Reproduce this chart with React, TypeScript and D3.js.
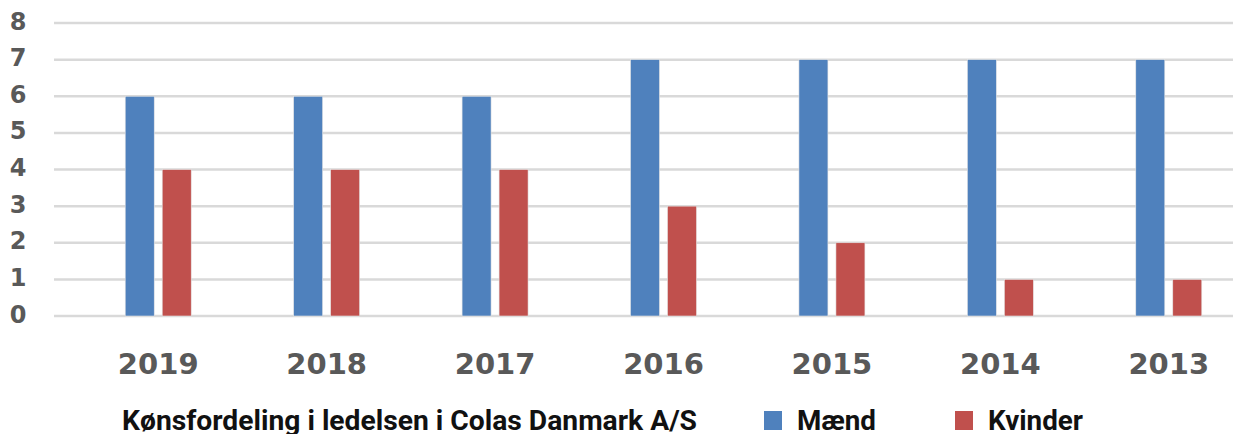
import React from 'react';
import * as d3 from 'd3';

const years = ['2019', '2018', '2017', '2016', '2015', '2014', '2013'];
const maend = [6, 6, 6, 7, 7, 7, 7];
const kvinder = [4, 4, 4, 3, 2, 1, 1];
const yTicks = [0, 1, 2, 3, 4, 5, 6, 7, 8];
const seriesNames = ['Mænd', 'Kvinder'];
const title = 'Kønsfordeling i ledelsen i Colas Danmark A/S';

const W = 1233;
const H = 434;
const colors = ['#4F81BD', '#C0504D'];
const numFont = '"DejaVu Sans", sans-serif';
const legendFont = 'Roboto, "Liberation Sans", sans-serif';

export default function App() {
  const x = d3.scaleBand<string>().domain(years).range([74, 1253]);
  const y = d3.scaleLinear().domain([0, 8]).range([316, 23]);
  // two bars of ~29px with an ~8px gap
  const inner = d3.scaleBand<number>().domain([0, 1]).range([0, 66]).paddingInner(0.216);

  const series = [maend, kvinder];

  return (
    <svg width={W} height={H} style={{ position: 'absolute', left: 0, top: 0, background: '#fff' }}>
      {yTicks.map(t => (
        <line key={'g' + t} x1={54} x2={W} y1={y(t)} y2={y(t)} stroke="#D9D9D9" strokeWidth={2.5} />
      ))}
      {yTicks.map(t => (
        <text key={'y' + t} x={18} y={y(t) + 6.5} textAnchor="middle" fontFamily={numFont}
          fontWeight="bold" fontSize={24} fill="#595959">{t}</text>
      ))}
      {years.map((yr, i) => {
        const cx = (x(yr) as number) + x.bandwidth() / 2 - 33;
        return (
          <g key={yr} transform={`translate(${cx},0)`}>
            {series.map((s, j) => (
              <rect key={j} x={inner(j)} y={y(s[i])} width={inner.bandwidth()}
                height={y(0) - y(s[i])} fill={colors[j]} stroke="#e6e6e6" strokeWidth={0.6} />
            ))}
          </g>
        );
      })}
      {years.map(yr => (
        <text key={'x' + yr} x={(x(yr) as number) + x.bandwidth() / 2} y={374} textAnchor="middle"
          fontFamily={numFont} fontWeight="bold" fontSize={29} fill="#595959">{yr}</text>
      ))}
      {/* legend */}
      <text x={122} y={430} fontFamily={legendFont} fontWeight="bold" fontSize={27} fill="#111"
        textLength={575} lengthAdjust="spacingAndGlyphs">{title}</text>
      {seriesNames.map((n, j) => {
        const lx = [764, 955][j];
        const tl = [79, 95][j];
        return (
          <g key={n}>
            <rect x={lx} y={411} width={18} height={19} fill={colors[j]} />
            <text x={lx + 33} y={430} fontFamily={legendFont} fontWeight="bold" fontSize={27} fill="#111"
              textLength={tl} lengthAdjust="spacingAndGlyphs">{n}</text>
          </g>
        );
      })}
    </svg>
  );
}
